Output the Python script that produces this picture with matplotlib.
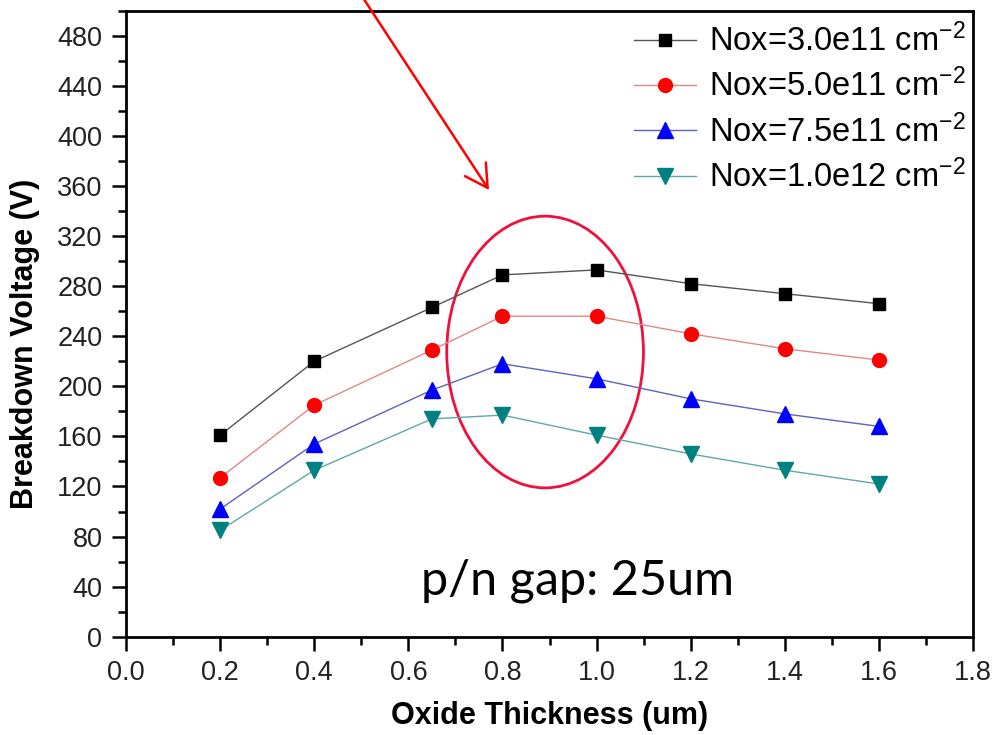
import matplotlib
matplotlib.use('Agg')
import matplotlib.pyplot as plt
from matplotlib.patches import Ellipse, FancyArrowPatch
from matplotlib.ticker import MultipleLocator

plt.rcParams['font.family'] = ['Liberation Sans', 'DejaVu Sans']
plt.rcParams['mathtext.default'] = 'regular'

thickness = [0.2, 0.4, 0.65, 0.8, 1.0, 1.2, 1.4, 1.6]
bv_3e11 = [161, 220, 263, 289, 293, 282, 274, 266]
bv_5e11 = [127, 185, 229, 256, 256, 242, 230, 221]
bv_75e11 = [102, 154, 197, 218, 206, 190, 178, 168]
bv_1e12 = [85, 133, 174, 177, 161, 146, 133, 122]

labels = ['Nox=3.0e11 cm$^{-2}$', 'Nox=5.0e11 cm$^{-2}$',
          'Nox=7.5e11 cm$^{-2}$', 'Nox=1.0e12 cm$^{-2}$']

fig = plt.figure(figsize=(9.98, 7.35), dpi=100)
ax = fig.add_axes([0.1263, 0.1337, 0.8487, 0.8517])

ax.plot(thickness, bv_3e11, color='#555555', lw=1, marker='s', ms=8.5,
        mfc='black', mec='black', label=labels[0])
ax.plot(thickness, bv_5e11, color='#e08888', lw=1, marker='o', ms=10,
        mfc='#ff0000', mec='#ff0000', label=labels[1])
ax.plot(thickness, bv_75e11, color='#6060c0', lw=1, marker='^', ms=11,
        mfc='#0000ff', mec='#0000ff', label=labels[2])
ax.plot(thickness, bv_1e12, color='#60a8a8', lw=1, marker='v', ms=11,
        mfc='#008080', mec='#008080', label=labels[3])

ax.set_xlim(0, 1.8)
ax.set_ylim(0, 500)
ax.xaxis.set_major_locator(MultipleLocator(0.2))
ax.xaxis.set_minor_locator(MultipleLocator(0.1))
ax.yaxis.set_major_locator(MultipleLocator(40))
ax.yaxis.set_minor_locator(MultipleLocator(20))
ax.set_yticks(range(0, 481, 40))
ax.xaxis.set_major_formatter(plt.FuncFormatter(lambda v, p: f'{v:.1f}'))

ax.tick_params(which='major', direction='out', length=10, width=1.8,
               labelsize=19.5, pad=7, colors='black', labelcolor='#222222')
ax.tick_params(which='minor', direction='out', length=5.5, width=1.8)
for s in ax.spines.values():
    s.set_linewidth(2)

ax.set_xlabel('Oxide Thickness (um)', fontsize=22, fontweight='bold')
ax.xaxis.set_label_coords(0.5, -0.102)
ax.set_ylabel('Breakdown Voltage (V)', fontsize=22, fontweight='bold')
ax.yaxis.set_label_coords(-0.1015, 0.4676)

ax.legend(loc='upper right', bbox_to_anchor=(1.012, 1.008), frameon=False,
          fontsize=23.5, handlelength=1.9, handletextpad=0.4,
          labelspacing=0.33, borderaxespad=0.15)

ax.add_patch(Ellipse((0.8905, 227.4), 0.418, 217, fill=False,
                     edgecolor='#f0103c', lw=2))

ax.text(0.348, 0.068, 'p/n gap: 25um', transform=ax.transAxes,
        fontsize=35, family='Lato', ha='left', va='baseline')

arrow = FancyArrowPatch((362 / 998, 1.005), (489 / 998, 545 / 735),
                        transform=fig.transFigure,
                        arrowstyle='->,head_length=0.8,head_width=0.45',
                        mutation_scale=20, color='red', lw=1.8,
                        shrinkA=0, shrinkB=0)
fig.add_artist(arrow)

fig.savefig('out.png', dpi=100)
